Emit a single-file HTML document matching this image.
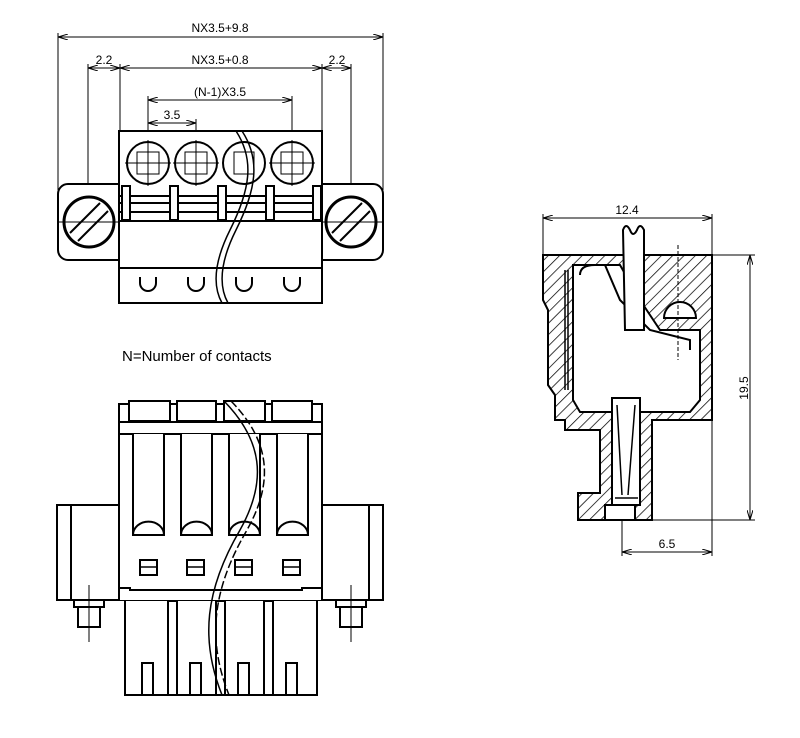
<!DOCTYPE html>
<html><head><meta charset="utf-8"><style>body{margin:0;background:#fff}svg{display:block}text{font-family:"Liberation Sans",sans-serif;fill:#000}</style></head><body>
<svg width="800" height="738" viewBox="0 0 800 738" xmlns="http://www.w3.org/2000/svg">
<defs>
<marker id="a" viewBox="0 0 10 6" refX="10" refY="3" markerWidth="10" markerHeight="6" orient="auto-start-reverse"><path d="M0,0 L10,3 L0,6" fill="none" stroke="#000" stroke-width="1"/></marker>
<pattern id="h" width="8" height="8" patternUnits="userSpaceOnUse" patternTransform="rotate(45)"><line x1="0" y1="0" x2="0" y2="8" stroke="#000" stroke-width="1.5"/></pattern>
</defs>
<g stroke="#000" fill="none" stroke-width="1">
<line x1="58" y1="37" x2="383" y2="37" marker-start="url(#a)" marker-end="url(#a)"/>
<line x1="58" y1="33" x2="58" y2="190"/><line x1="383" y1="33" x2="383" y2="190"/>
<line x1="88" y1="68" x2="120" y2="68" marker-start="url(#a)" marker-end="url(#a)"/>
<line x1="120" y1="68" x2="322" y2="68" marker-start="url(#a)" marker-end="url(#a)"/>
<line x1="322" y1="68" x2="351" y2="68" marker-start="url(#a)" marker-end="url(#a)"/>
<line x1="88" y1="64" x2="88" y2="252"/><line x1="120" y1="64" x2="120" y2="131"/>
<line x1="322" y1="64" x2="322" y2="131"/><line x1="351" y1="64" x2="351" y2="252"/>
<line x1="148" y1="100" x2="292" y2="100" marker-start="url(#a)" marker-end="url(#a)"/>
<line x1="148" y1="96" x2="148" y2="185"/><line x1="292" y1="96" x2="292" y2="185"/>
<line x1="148" y1="123" x2="196" y2="123" marker-start="url(#a)" marker-end="url(#a)"/>
<line x1="196" y1="119" x2="196" y2="185"/>
</g>
<g font-size="12" text-anchor="middle">
<text x="220" y="32">NX3.5+9.8</text>
<text x="104" y="64">2.2</text>
<text x="220" y="64">NX3.5+0.8</text>
<text x="337" y="64">2.2</text>
<text x="220" y="96">(N-1)X3.5</text>
<text x="172" y="119">3.5</text>
</g>
<g stroke="#000" fill="none" stroke-width="2">
<rect x="58" y="184" width="325" height="76" rx="10" fill="#fff"/>
<rect x="119" y="131" width="203" height="172" fill="#fff"/>
<line x1="119" y1="221" x2="322" y2="221"/>
<line x1="119" y1="268" x2="322" y2="268"/>
<line x1="119" y1="196" x2="322" y2="196"/>
<line x1="119" y1="203" x2="322" y2="203"/>
<line x1="119" y1="212" x2="322" y2="212"/>
<circle cx="89" cy="222" r="25" fill="#fff" stroke-width="3"/>
<circle cx="351" cy="222" r="25" fill="#fff" stroke-width="3"/>
<path d="M70,233 L100,203 M78,241 L108,211 M332,233 L362,203 M340,241 L370,211"/>
</g>
<g stroke="#000" fill="#fff" stroke-width="2">
<rect x="122" y="186" width="8" height="34"/><rect x="170" y="186" width="8" height="34"/><rect x="218" y="186" width="8" height="34"/><rect x="266" y="186" width="8" height="34"/><rect x="313" y="186" width="8" height="34"/>
<circle cx="148" cy="163" r="21"/><circle cx="196" cy="163" r="21"/><circle cx="244" cy="163" r="21"/><circle cx="292" cy="163" r="21"/>
<path d="M140,277 v6 a8,8 0 0 0 16,0 v-6"/><path d="M188,277 v6 a8,8 0 0 0 16,0 v-6"/><path d="M236,277 v6 a8,8 0 0 0 16,0 v-6"/><path d="M284,277 v6 a8,8 0 0 0 16,0 v-6"/>
</g>
<g stroke="#000" fill="none" stroke-width="1">
<path d="M137,152 h22 v22 h-22z M185,152 h22 v22 h-22z M281,152 h22 v22 h-22z M234,152 h20 v22 h-20z"/>
<path d="M125,163 h46 M148,140 v46 M173,163 h46 M196,140 v46 M269,163 h46 M292,140 v46"/>
<line x1="58" y1="222" x2="120" y2="222"/><line x1="322" y1="222" x2="383" y2="222"/>
<path d="M236,131 C255,160 250,190 230,230 C215,260 212,285 222,303" stroke-width="1.5"/>
<path d="M242,131 C261,160 256,190 236,230 C221,260 218,285 228,303" stroke-width="1.5"/>
</g>
<text x="122" y="361" font-size="15">N=Number of contacts</text>
<g stroke="#000" fill="#fff" stroke-width="2">
<rect x="57" y="505" width="62" height="95"/><rect x="322" y="505" width="61" height="95"/>
<rect x="125" y="590" width="192" height="105"/>
<rect x="119" y="404" width="203" height="196"/>
<rect x="129" y="401" width="41" height="20"/><rect x="177" y="401" width="39" height="20"/><rect x="224" y="401" width="41" height="20"/><rect x="272" y="401" width="40" height="20"/>
<line x1="119" y1="422" x2="322" y2="422"/><line x1="119" y1="434" x2="322" y2="434"/>
<line x1="71" y1="505" x2="71" y2="600"/><line x1="369" y1="505" x2="369" y2="600"/>
<path d="M133,434 V535 H164 V434 M133,535 a15,13 0 0 1 31,0"/>
<path d="M181,434 V535 H212 V434 M181,535 a15,13 0 0 1 31,0"/>
<path d="M229,434 V535 H260 V434 M229,535 a15,13 0 0 1 31,0"/>
<path d="M277,434 V535 H308 V434 M277,535 a15,13 0 0 1 31,0"/>
<rect x="140" y="560" width="17" height="15"/><rect x="187" y="560" width="17" height="15"/><rect x="235" y="560" width="17" height="15"/><rect x="283" y="560" width="17" height="15"/>
<path d="M119,600 V588 H130 V590 H302 V588 H322 V600"/>
<path d="M168,695 V601 H177 V695 M216,695 V601 H225 V695 M264,695 V601 H273 V695" fill="none"/>
<rect x="142" y="663" width="11" height="32"/><rect x="190" y="663" width="11" height="32"/><rect x="238" y="663" width="11" height="32"/><rect x="286" y="663" width="11" height="32"/>
<rect x="78" y="605" width="22" height="22"/><rect x="340" y="605" width="22" height="22"/>
<rect x="74" y="600" width="30" height="7"/><rect x="336" y="600" width="30" height="7"/>
</g>
<g stroke="#000" fill="none" stroke-width="1.5">
<line x1="141" y1="567" x2="156" y2="567"/><line x1="188" y1="567" x2="203" y2="567"/><line x1="236" y1="567" x2="251" y2="567"/><line x1="284" y1="567" x2="299" y2="567"/>
<path d="M224,401 C262,440 268,480 240,530 C205,590 200,640 222,695"/>
<path d="M231,401 C269,440 275,480 247,530 C212,590 207,640 229,695" stroke-dasharray="8,3"/>
<line x1="89" y1="585" x2="89" y2="642" stroke-width="1"/><line x1="351" y1="585" x2="351" y2="642" stroke-width="1"/>
</g>
<g stroke="#000" fill="none" stroke-width="1">
<line x1="543" y1="218" x2="712" y2="218" marker-start="url(#a)" marker-end="url(#a)"/>
<line x1="543" y1="214" x2="543" y2="255"/><line x1="712" y1="214" x2="712" y2="255"/>
<line x1="750" y1="255" x2="750" y2="520" marker-start="url(#a)" marker-end="url(#a)"/>
<line x1="712" y1="255" x2="755" y2="255"/><line x1="652" y1="520" x2="755" y2="520"/>
<line x1="622" y1="552" x2="712" y2="552" marker-start="url(#a)" marker-end="url(#a)"/>
<line x1="622" y1="505" x2="622" y2="556"/><line x1="712" y1="420" x2="712" y2="556"/>
</g>
<text x="627" y="214" font-size="12" text-anchor="middle">12.4</text>
<text x="667" y="548" font-size="12" text-anchor="middle">6.5</text>
<text x="748" y="388" font-size="12" text-anchor="middle" transform="rotate(-90 748 388)">19.5</text>
<g stroke="#000" stroke-width="2">
<path d="M543,255 H712 V420 H652 V520 H578 V493 H600 V430 H565 V420 H555 V395 L548,385 V310 L543,300Z" fill="url(#h)"/>
<path d="M573,265 H620 L640,300 L660,330 H700 V400 L690,412 H580 L573,400Z" fill="#fff"/>
<path d="M580,275 Q580,265 595,265 H605 L620,300 L650,330 L690,340 V350" fill="none"/>
<path d="M612,398 H640 V505 H612Z" fill="#fff"/>
<path d="M617,405 L622,495 M635,405 L628,495 M615,498 H638" fill="none" stroke-width="1.5"/>
<path d="M623,230 Q626,222 630,230 Q633,238 637,230 Q640,222 644,230 V330 H625Z" fill="#fff"/>
<path d="M664,318 A16,16 0 0 1 696,318Z" fill="#fff"/>
<path d="M565,270 V390 M568,270 V390" fill="none" stroke-width="1.5"/>
<path d="M678,245 V360" fill="none" stroke-width="1" stroke-dasharray="4,2"/>
<rect x="605" y="505" width="30" height="15" fill="#fff"/>
</g>
</svg>
</body></html>
